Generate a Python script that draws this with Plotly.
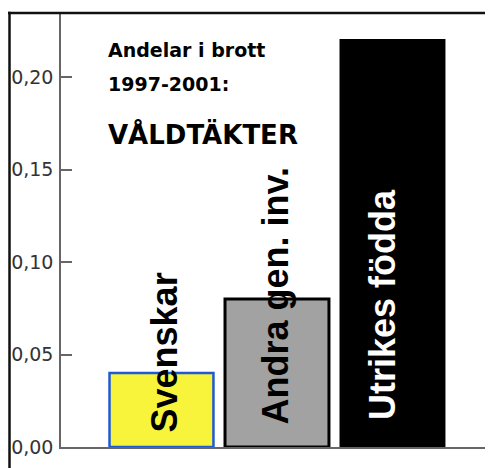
import plotly.graph_objects as go

categories = ["Svenskar", "Andra gen. inv.", "Utrikes födda"]
values = [0.04, 0.08, 0.22]
tick_vals = [0.0, 0.05, 0.10, 0.15, 0.20]
title_lines = ["Andelar i brott", "1997-2001:"]
subtitle = "VÅLDTÄKTER"

fill_colors = ["#f8f43c", "#a2a2a2", "#000000"]
line_colors = ["#1f5ad6", "#000000", "#000000"]
line_widths = [2.5, 3, 2]
label_colors = ["#000000", "#000000", "#ffffff"]
label_xshift = [3, -1, -10]
label_yshift = [13, 21, 25]

xs = list(range(len(categories)))

# page is drawn with an 8px body margin; plot area in page pixels: x 61..491, y 13..447
def px_to_paper_x(px):
    return (px - 61) / 430.0

def px_to_paper_y(py):
    return (447 - py) / 434.0

fig = go.Figure()
fig.add_trace(go.Bar(
    x=xs, y=values, width=0.9,
    marker=dict(color=fill_colors, line=dict(color=line_colors, width=line_widths)),
    hoverinfo="skip", showlegend=False,
))

annotations = []
for i, c in enumerate(categories):
    annotations.append(dict(
        x=i, y=0, xref="x", yref="y", text=f"<b>{c}</b>", showarrow=False,
        textangle=-90, xanchor="center", yanchor="bottom",
        xshift=label_xshift[i], yshift=label_yshift[i],
        font=dict(family="Liberation Sans", size=36, color=label_colors[i]),
    ))

annotations += [
    dict(x=px_to_paper_x(106), y=px_to_paper_y(63), xref="paper", yref="paper",
         text=f"<b>{title_lines[0]}</b>", showarrow=False, xanchor="left", yanchor="bottom",
         font=dict(family="DejaVu Sans", size=19, color="#000000")),
    dict(x=px_to_paper_x(106), y=px_to_paper_y(97), xref="paper", yref="paper",
         text=f"<b>{title_lines[1]}</b>", showarrow=False, xanchor="left", yanchor="bottom",
         font=dict(family="DejaVu Sans", size=19, color="#000000")),
    dict(x=px_to_paper_x(106), y=px_to_paper_y(152), xref="paper", yref="paper",
         text=f"<b>{subtitle}</b>", showarrow=False, xanchor="left", yanchor="bottom",
         font=dict(family="DejaVu Sans", size=26, color="#000000")),
]

shapes = [
    dict(type="line", xref="paper", yref="paper",
         x0=px_to_paper_x(8), x1=1.2, y0=1, y1=1, line=dict(color="#111111", width=2.5)),
    dict(type="line", xref="paper", yref="paper",
         x0=px_to_paper_x(9.5), x1=px_to_paper_x(9.5), y0=1.003, y1=-0.2,
         line=dict(color="#111111", width=2.5)),
    dict(type="line", xref="paper", yref="paper",
         x0=1, x1=1, y0=0, y1=10 / 434.0, line=dict(color="#666666", width=1.5)),
]

fig.update_layout(
    width=485, height=460,
    margin=dict(l=53, r=2, t=5, b=21, pad=0),
    paper_bgcolor="#ffffff", plot_bgcolor="#ffffff",
    separators=", ",
    annotations=annotations,
    shapes=shapes,
    xaxis=dict(range=[-0.870, 2.853], showticklabels=False, ticks="",
               showgrid=False, zeroline=False, showline=True,
               linecolor="#666666", linewidth=1.5, fixedrange=True),
    yaxis=dict(range=[0, 0.2346], tickvals=tick_vals, tickformat=".2f",
               ticks="inside", ticklen=11, tickwidth=1.5, tickcolor="#666666",
               showgrid=False, zeroline=False, showline=True,
               linecolor="#666666", linewidth=1.5,
               tickfont=dict(family="DejaVu Sans", size=19, color="#333333"),
               ticklabelstandoff=2, fixedrange=True),
    bargap=0.1,
)

fig.write_html("out.html", config={"displayModeBar": False})
